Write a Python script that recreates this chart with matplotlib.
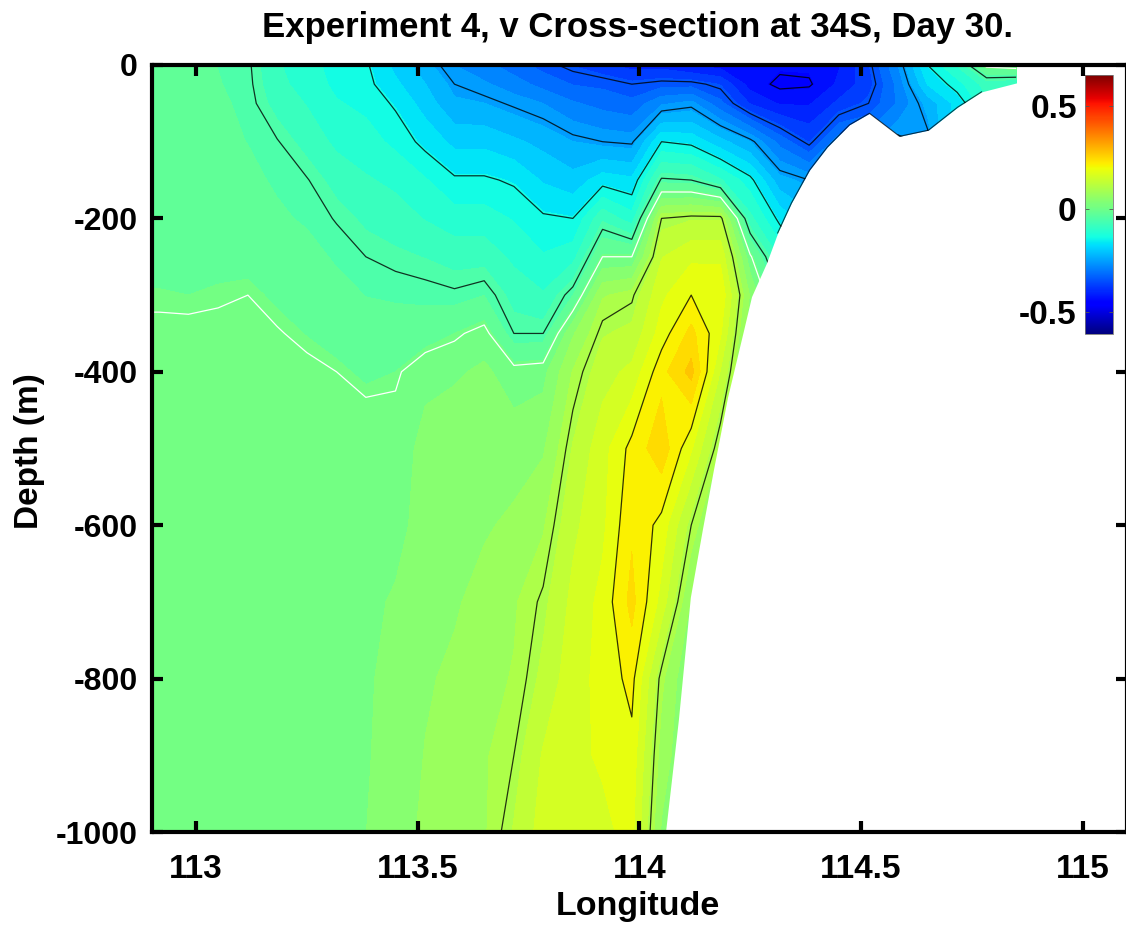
import numpy as np
import matplotlib
matplotlib.use('Agg')
import matplotlib.pyplot as plt
from matplotlib.cm import ScalarMappable
from matplotlib.colors import Normalize

plt.rcParams['font.family'] = ['Liberation Sans', 'DejaVu Sans']
plt.rcParams['font.weight'] = 'bold'

# model grid
lons = [112.85, 112.917, 112.983, 113.05, 113.117, 113.183, 113.25, 113.317, 113.383, 113.45,
        113.517, 113.583, 113.65, 113.717, 113.783, 113.85, 113.917, 113.983, 114.05, 114.117,
        114.183, 114.25, 114.317, 114.383, 114.45, 114.517, 114.583, 114.65, 114.717, 114.783, 114.85]
depths = [0, -25, -50, -100, -150, -200, -250, -300, -350, -400, -500, -600, -700, -800, -900, -1000]

# v, one row per longitude (top to bottom in depth)
v_by_lon = [
    [-.025, -.025, -.025, -.022, -.02, -.015, -.01, -.004, .005, .012, .02, .021, .022, .022, .022, .022],
    [-.025, -.025, -.025, -.022, -.02, -.015, -.01, -.004, .005, .012, .02, .021, .022, .022, .022, .022],
    [-.027, -.027, -.025, -.022, -.02, -.015, -.01, -.005, .005, .012, .02, .021, .022, .022, .022, .022],
    [-.035, -.033, -.03, -.028, -.022, -.018, -.01, -.003, .006, .014, .02, .021, .022, .022, .022, .022],
    [-.045, -.043, -.04, -.035, -.028, -.02, -.012, 0, .008, .015, .02, .021, .022, .022, .022, .022],
    [-.09, -.085, -.075, -.048, -.038, -.03, -.02, -.009, .002, .012, .02, .021, .022, .022, .022, .022],
    [-.11, -.105, -.095, -.075, -.048, -.038, -.025, -.015, -.006, .006, .02, .021, .022, .022, .022, .022],
    [-.135, -.13, -.12, -.1, -.075, -.052, -.038, -.025, -.015, 0, .015, .02, .021, .022, .022, .022],
    [-.145, -.14, -.13, -.11, -.09, -.07, -.05, -.035, -.022, -.01, .02, .02, .021, .022, .022, .024],
    [-.19, -.175, -.155, -.13, -.1, -.08, -.058, -.037, -.025, -.005, .015, .02, .026, .03, .035, .04],
    [-.23, -.21, -.195, -.16, -.12, -.095, -.065, -.04, -.02, .02, .03, .03, .04, .05, .055, .06],
    [-.27, -.25, -.235, -.19, -.145, -.11, -.075, -.045, -.005, .02, .045, .045, .05, .06, .07, .07],
    [-.29, -.265, -.24, -.19, -.145, -.11, -.075, -.035, .01, .03, .045, .05, .065, .075, .08, .08],
    [-.315, -.285, -.255, -.205, -.155, -.125, -.1, -.075, -.05, .01, .04, .06, .08, .085, .1, .115],
    [-.34, -.31, -.27, -.22, -.185, -.145, -.12, -.09, -.05, .015, .05, .08, .105, .12, .145, .155],
    [-.36, -.33, -.295, -.24, -.2, -.15, -.105, -.035, .05, .085, .115, .135, .15, .16, .165, .17],
    [-.38, -.335, -.31, -.25, -.165, -.07, 0, .08, .11, .13, .16, .165, .18, .18, .175, .165],
    [-.4, -.35, -.32, -.255, -.175, -.11, 0, .095, .12, .15, .21, .225, .24, .21, .19, .18],
    [-.4, -.34, -.275, -.15, -.045, .1, .14, .165, .185, .22, .25, .19, .16, .09, .07, .05],
    [-.42, -.34, -.26, -.16, -.05, .11, .165, .2, .24, .27, .175, .1, .05, .02, .02, .02],
    [-.43, -.36, -.32, -.2, -.09, .11, .165, .195, .175, .14, .08, .03, .02, .02, .02, .02],
    [-.44, -.43, -.39, -.24, -.14, -.085, .005, .05, .03, .02, .02, .02, .02, .02, .02, .02],
    [-.44, -.46, -.42, -.31, -.23, -.16, -.1, -.05, -.02, 0, 0, 0, 0, 0, 0, 0],
    [-.44, -.455, -.42, -.36, -.25, -.2, -.15, -.1, -.05, 0, 0, 0, 0, 0, 0, 0],
    [-.42, -.41, -.38, -.28, -.2, -.15, -.1, -.05, -.02, 0, 0, 0, 0, 0, 0, 0],
    [-.36, -.37, -.35, -.28, -.2, -.15, -.1, -.05, -.02, 0, 0, 0, 0, 0, 0, 0],
    [-.27, -.29, -.295, -.24, -.15, -.1, -.05, -.02, 0, 0, 0, 0, 0, 0, 0, 0],
    [-.15, -.18, -.23, -.26, -.15, -.1, -.05, -.02, 0, 0, 0, 0, 0, 0, 0, 0],
    [-.09, -.135, -.17, -.15, -.1, -.05, 0, 0, 0, 0, 0, 0, 0, 0, 0, 0],
    [.01, -.08, -.1, -.05, -.025, 0, 0, 0, 0, 0, 0, 0, 0, 0, 0, 0],
    [.02, -.09, -.1, -.05, -.025, 0, 0, 0, 0, 0, 0, 0, 0, 0, 0, 0],
]

# sea floor outline
bottom_lon = [114.059, 114.088, 114.115, 114.142, 114.167, 114.199, 114.235, 114.253, 114.287, 114.312,
              114.343, 114.384, 114.424, 114.474, 114.519, 114.587, 114.652, 114.718, 114.772, 114.853,
              114.854, 115.2]
bottom_depth = [-1000, -854, -694, -606, -528, -433, -346, -302, -258, -219,
                -180, -137, -107, -78, -63, -93, -85, -55, -35, -23,
                0, 0]

black_levels = [-.45, -.35, -.25, -.15, -.05, .1, .2]
white_levels = [0]
vmin = -0.607
vmax = 0.65

W, H = 1126, 930
fig = plt.figure(figsize=(W / 100, H / 100), dpi=100)
ax = fig.add_axes([152 / W, 1 - 832 / H, (1127 - 152) / W, (832 - 65) / H])

v = np.array(v_by_lon).T
fill_levels = np.arange(vmin - 0.0154, vmax + 0.01, 0.0294)
ax.contourf(lons, depths, v, levels=fill_levels, cmap='jet', vmin=vmin, vmax=vmax, extend='both')
ax.contour(lons, depths, v, levels=black_levels, colors='k', linewidths=0.9, linestyles='solid', alpha=0.8)
ax.contour(lons, depths, v, levels=white_levels, colors='w', linewidths=0.9, linestyles='solid')

# land on top
ax.fill_between(bottom_lon, bottom_depth, -1000, color='w', lw=0, zorder=2.3)
# contours bunch up along the slope here
ax.plot(bottom_lon[9:19], bottom_depth[9:19], color='k', lw=0.8, alpha=0.7, zorder=2.4)

ax.set_xlim(112.9007, 115.1)
ax.set_ylim(-1000, 0)
ax.set_xticks([113, 113.5, 114, 114.5, 115])
ax.set_xticklabels(['113', '113.5', '114', '114.5', '115'])
ax.set_yticks([0, -200, -400, -600, -800, -1000])
ax.set_yticklabels(['0', '-200', '-400', '-600', '-800', '-1000'])
ax.set_axisbelow(False)
ax.tick_params(direction='in', top=True, right=True, length=8, width=3, labelsize=23)
ax.tick_params(axis='x', labelsize=24, pad=16)
ax.tick_params(axis='y', pad=10)
for s in ax.spines.values():
    s.set_linewidth(3)
    s.set_zorder(5)

fig.text(638 / W, 1 - 28 / H, 'Experiment 4, v Cross-section at 34S, Day 30.', fontsize=25,
         ha='center', va='center', fontweight='bold')
fig.text(638 / W, 1 - 906 / H, 'Longitude', fontsize=24.5, ha='center', va='center', fontweight='bold')
fig.text(30 / W, 1 - 451 / H, 'Depth (m)', fontsize=24, ha='center', va='center',
         rotation=90, fontweight='bold')

# colorbar
cax = fig.add_axes([1085 / W, 1 - 334 / H, 28 / W, 259 / H])
cb = fig.colorbar(ScalarMappable(Normalize(vmin, vmax), 'jet'), cax=cax)
cb.set_ticks([-0.5, 0, 0.5])
cb.set_ticklabels(['-0.5', '0', '0.5'])
cax.yaxis.set_ticks_position('both')
cax.yaxis.set_label_position('left')
cax.tick_params(axis='y', direction='in', length=3, width=0.6, color='#555555', labelleft=True,
                labelright=False, labelsize=24, pad=6)
cb.outline.set_edgecolor('#777777')
cb.outline.set_linewidth(0.6)

fig.savefig('out.png', dpi=100)
